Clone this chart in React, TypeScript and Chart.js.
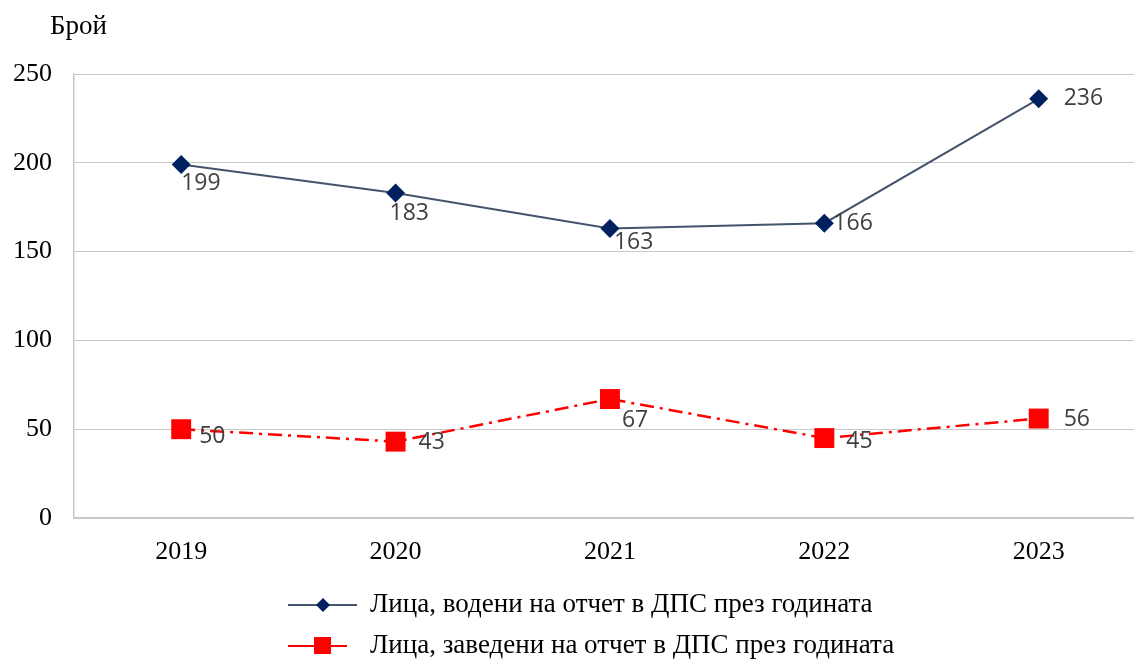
import React, { useEffect, useRef } from "react";
import { Chart, registerables } from "chart.js";

Chart.register(...registerables);

const categories = ["2019", "2020", "2021", "2022", "2023"];
const seriesNames = [
  "Лица, водени на отчет в ДПС през годината",
  "Лица, заведени на отчет в ДПС през годината",
];
const keptValues = [199, 183, 163, 166, 236];
const enteredValues = [50, 43, 67, 45, 56];
const yTicks = [0, 50, 100, 150, 200, 250];
const yAxisTitle = "Брой";

// label placement styles (offsets from each point, in px)
const keptLabelOffsets = [
  [0, 19], [-6, 20], [4, 14], [9, 0], [25, 0],
];
const enteredLabelOffsets = [
  [18, 7], [23, 1], [12, 21], [22, 3], [25, 1],
];

const SERIF = "'Liberation Serif', 'Times New Roman', serif";
const SANS = "'Open Sans', 'Noto Sans', sans-serif";
const BLUE_LINE = "#44546A";
const BLUE_MARK = "#002060";
const RED = "#FF0000";

const drawPlugin = {
  id: "customDraw",
  afterDatasetsDraw(chart: any) {
    const ctx = chart.ctx;
    const offsets = [keptLabelOffsets, enteredLabelOffsets];
    ctx.save();
    ctx.font = `23px ${SANS}`;
    ctx.fillStyle = "#404040";
    ctx.textAlign = "left";
    ctx.textBaseline = "middle";
    chart.data.datasets.forEach((ds: any, di: number) => {
      const meta = chart.getDatasetMeta(di);
      meta.data.forEach((el: any, i: number) => {
        const [dx, dy] = offsets[di][i];
        ctx.fillText(String(ds.data[i]), el.x + dx, el.y + dy);
      });
    });
    ctx.restore();
  },
  afterDraw(chart: any) {
    const ctx = chart.ctx;
    ctx.save();
    // axis title
    ctx.font = `27px ${SERIF}`;
    ctx.fillStyle = "#000";
    ctx.textAlign = "left";
    ctx.textBaseline = "middle";
    ctx.fillText(yAxisTitle, 50, 27);

    // legend
    const rows = [605, 646];
    const x1 = 288;
    const x2 = 357;
    const mx = 323;
    const tx = 370;
    // row 1
    ctx.strokeStyle = BLUE_LINE;
    ctx.lineWidth = 2;
    ctx.beginPath();
    ctx.moveTo(x1, rows[0]);
    ctx.lineTo(x2, rows[0]);
    ctx.stroke();
    ctx.fillStyle = BLUE_MARK;
    ctx.beginPath();
    ctx.moveTo(mx - 7, rows[0]);
    ctx.lineTo(mx, rows[0] - 7);
    ctx.lineTo(mx + 7, rows[0]);
    ctx.lineTo(mx, rows[0] + 7);
    ctx.closePath();
    ctx.fill();
    // row 2
    ctx.strokeStyle = RED;
    ctx.lineWidth = 2;
    ctx.beginPath();
    ctx.moveTo(x1, rows[1]);
    ctx.lineTo(x2 - 10, rows[1]);
    ctx.stroke();
    ctx.fillStyle = RED;
    ctx.fillRect(mx - 9, rows[1] - 9, 17, 17);

    ctx.fillStyle = "#000";
    ctx.font = `27px ${SERIF}`;
    ctx.fillText(seriesNames[0], tx, rows[0]);
    ctx.fillText(seriesNames[1], tx, rows[1]);
    ctx.restore();
  },
};

export default function App() {
  const ref = useRef<HTMLCanvasElement>(null);
  useEffect(() => {
    if (!ref.current) return;
    const chart = new Chart(ref.current, {
      type: "line",
      data: {
        labels: categories,
        datasets: [
          {
            label: seriesNames[0],
            data: keptValues,
            borderColor: BLUE_LINE,
            borderWidth: 2,
            pointStyle: "rectRot",
            pointRadius: 9.5,
            pointBackgroundColor: BLUE_MARK,
            pointBorderColor: BLUE_MARK,
            pointBorderWidth: 0,
            tension: 0,
          },
          {
            label: seriesNames[1],
            data: enteredValues,
            borderColor: RED,
            borderWidth: 2.5,
            borderDash: [14, 6, 3, 6],
            pointStyle: "rect",
            pointRadius: 14.1,
            pointBackgroundColor: RED,
            pointBorderColor: RED,
            pointBorderWidth: 0,
            tension: 0,
          },
        ],
      },
      options: {
        responsive: false,
        animation: false,
        layout: { padding: { top: 74, left: 0, right: 5, bottom: 0 } },
        plugins: {
          legend: { display: false },
          tooltip: { enabled: false },
          title: { display: false },
        },
        scales: {
          x: {
            type: "category",
            offset: true,
            grid: { display: false, drawTicks: false },
            border: { display: true, color: "#c8c8c8", width: 1.5 },
            ticks: {
              color: "#000",
              font: { family: SERIF, size: 26 },
              padding: 19,
              maxRotation: 0,
            },
            afterFit: (s: any) => {
              s.height = 142;
            },
          },
          y: {
            min: 0,
            max: 250,
            afterBuildTicks: (s: any) => {
              s.ticks = yTicks.map((v) => ({ value: v }));
            },
            grid: { color: "#c8c8c8", lineWidth: 1, drawTicks: false },
            border: { display: true, color: "#c8c8c8", width: 1.5 },
            ticks: {
              color: "#000",
              font: { family: SERIF, size: 26 },
              padding: 22,
            },
            afterFit: (s: any) => {
              s.width = 74;
            },
          },
        },
      },
      plugins: [drawPlugin],
    });
    return () => chart.destroy();
  }, []);
  return (
    <div
      style={{
        position: "absolute",
        left: 0,
        top: 0,
        width: 1134,
        height: 660,
        overflow: "hidden",
        background: "#fff",
      }}
    >
      <canvas ref={ref} width={1160} height={660} />
    </div>
  );
}
